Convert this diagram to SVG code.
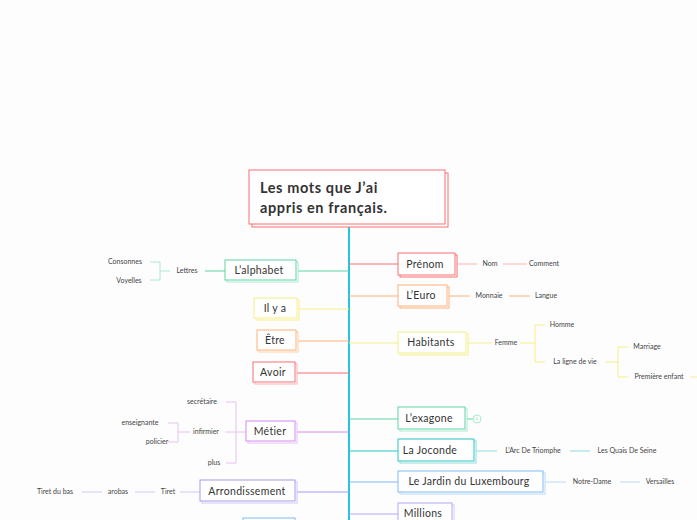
<svg xmlns="http://www.w3.org/2000/svg" width="697" height="520" viewBox="0 0 697 520">
<style>
text{font-family:Lato,"Noto Sans",sans-serif;fill:#333}
.n{font-size:10.5px;text-anchor:middle;letter-spacing:0.3px}
.s{font-size:7px;text-anchor:middle;fill:#444}
.b{fill:#fff;stroke-width:1}
.l{fill:none;stroke-width:1}
</style>
<rect width="697" height="520" fill="#fdfdfd"/>
<g id="connectors">
<path class="l" stroke="#26c6da" style="stroke-width:2" d="M349 224V520"/>
<path class="l" stroke="#5fd3a5" d="M296 271H349M205 271H225"/>
<path class="l" stroke="#a8ead0" d="M150 262H160V280H150M160 271H170"/>
<path class="l" stroke="#f5ef8a" d="M297 309H349M349 343H398M466 343H492M520 343H535M535 325V362M535 325H545M535 362H545M605 362H618M618 347V377M618 347H628M618 377H628M690 377H697"/>
<path class="l" stroke="#ffb27a" d="M296 341H349M349 296H398M447 296H470M509 296H530"/>
<path class="l" stroke="#f87171" d="M295 373H349M349 264H398"/>
<path class="l" stroke="#ffb3b3" d="M455 264H477M503 264H527"/>
<path class="l" stroke="#d38bf0" d="M295 432H349"/>
<path class="l" stroke="#e6c2f5" d="M225 432H246M236 402V463M226 402H236M226 463H236M168 423H178V442H168M178 432H190"/>
<path class="l" stroke="#a79af5" d="M295 492H349"/>
<path class="l" stroke="#cfc8fa" d="M180 492H200M135 492H155M82 492H102"/>
<path class="l" stroke="#5fd3a5" d="M349 419H398M465 419H473"/>
<path class="l" stroke="#2bc4c4" d="M349 451H398"/>
<path class="l" stroke="#8fdcdc" d="M474 451H497M570 451H590"/>
<path class="l" stroke="#7cbcf5" d="M349 482H398"/>
<path class="l" stroke="#b8dbfa" d="M543 482H566M620 482H640"/>
<path class="l" stroke="#b3a8f7" d="M349 514H398"/>
</g>
<g id="title"><rect x="252" y="173" width="196" height="54" fill="#fff" stroke="#f87171"/><rect x="249" y="170" width="196" height="54" fill="#fff" stroke="#f87171"/>
<text x="260" y="193" style="font-size:14.5px;font-weight:bold;letter-spacing:0.6px">Les  mots que J’ai</text><text x="260" y="213" style="font-size:14.5px;font-weight:bold;letter-spacing:0.6px">appris en français.</text></g>
<g id="alphabet"><rect class="b" x="227" y="262" width="71" height="20" stroke="#a8ead0"/><rect class="b" x="225" y="260" width="71" height="20" stroke="#5fd3a5"/><text class="n" x="259" y="274">L’alphabet</text></g>
<g id="lettres"><text class="s" x="187" y="273">Lettres</text><text class="s" x="125" y="264">Consonnes</text><text class="s" x="129" y="283">Voyelles</text></g>
<g id="ilya"><rect class="b" x="256" y="300" width="43" height="20" stroke="#f5ef8a"/><rect class="b" x="254" y="298" width="43" height="20" stroke="#f5ef8a"/><text class="n" x="275" y="312">Il y a</text></g>
<g id="etre"><rect class="b" x="259" y="332" width="39" height="20" stroke="#ffcfa8"/><rect class="b" x="257" y="330" width="39" height="20" stroke="#ffb27a"/><text class="n" x="275" y="344">Être</text></g>
<g id="avoir"><rect class="b" x="255" y="364" width="42" height="20" stroke="#ffb3b3"/><rect class="b" x="253" y="362" width="42" height="20" stroke="#f87171"/><text class="n" x="273" y="376">Avoir</text></g>
<g id="metier"><rect class="b" x="248" y="423" width="49" height="20" stroke="#e6c2f5"/><rect class="b" x="246" y="421" width="49" height="20" stroke="#d38bf0"/><text class="n" x="270" y="435">Métier</text>
<text class="s" x="206" y="434">infirmier</text><text class="s" x="202" y="404">secrétaire</text><text class="s" x="214" y="465">plus</text><text class="s" x="140" y="425">enseignante</text><text class="s" x="157" y="444">policier</text></g>
<g id="arrondissement"><rect class="b" x="202" y="482" width="95" height="21" stroke="#cfc8fa"/><rect class="b" x="200" y="480" width="95" height="21" stroke="#a79af5"/><text class="n" x="247" y="495">Arrondissement</text>
<text class="s" x="168" y="494">Tiret</text><text class="s" x="118" y="494">arobas</text><text class="s" x="55" y="494">Tiret du bas</text></g>
<g id="partial"><rect class="b" x="243" y="518" width="52" height="10" stroke="#7cbcf5"/></g>
<g id="prenom"><rect class="b" x="400" y="255" width="57" height="22" stroke="#f87171"/><rect class="b" x="398" y="253" width="57" height="22" stroke="#f87171"/><text class="n" x="425" y="268">Prénom</text><text class="s" x="490" y="266">Nom</text><text class="s" x="544" y="266">Comment</text></g>
<g id="euro"><rect class="b" x="400" y="287" width="49" height="21" stroke="#ffb27a"/><rect class="b" x="398" y="285" width="49" height="21" stroke="#ffb27a"/><text class="n" x="421" y="299">L’Euro</text><text class="s" x="489" y="298">Monnaie</text><text class="s" x="546" y="298">Langue</text></g>
<g id="habitants"><rect class="b" x="400" y="334" width="68" height="21" stroke="#f5ef8a"/><rect class="b" x="398" y="332" width="68" height="21" stroke="#f5ef8a"/><text class="n" x="431" y="346">Habitants</text>
<text class="s" x="506" y="345">Femme</text><text class="s" x="562" y="327">Homme</text><text class="s" x="575" y="364">La ligne  de vie</text><text class="s" x="647" y="349">Marriage</text><text class="s" x="659" y="379">Première enfant</text></g>
<g id="exagone"><rect class="b" x="400" y="409" width="67" height="22" stroke="#a8ead0"/><rect class="b" x="398" y="407" width="67" height="22" stroke="#5fd3a5"/><text class="n" x="429" y="422">L’exagone</text><circle cx="477" cy="419" r="4" fill="#fff" stroke="#a8ead0"/><text x="477" y="421" style="font-size:5px;text-anchor:middle;fill:#a8ead0">4</text></g>
<g id="joconde"><rect class="b" x="400" y="441" width="76" height="22" stroke="#8fdcdc"/><rect class="b" x="398" y="439" width="76" height="22" stroke="#2bc4c4"/><text class="n" x="430" y="454">La Joconde</text><text class="s" x="533" y="453">L’Arc De Triomphe</text><text class="s" x="627" y="453">Les Quais De Seine</text></g>
<g id="jardin"><rect class="b" x="400" y="473" width="145" height="21" stroke="#b8dbfa"/><rect class="b" x="398" y="471" width="145" height="21" stroke="#7cbcf5"/><text class="n" x="469" y="485">Le Jardin du Luxembourg</text><text class="s" x="592" y="484">Notre-Dame</text><text class="s" x="660" y="484">Versailles</text></g>
<g id="millions"><rect class="b" x="400" y="505" width="54" height="21" stroke="#d4ccfa"/><rect class="b" x="398" y="503" width="54" height="21" stroke="#b3a8f7"/><text class="n" x="423" y="517">Millions</text></g>
</svg>
